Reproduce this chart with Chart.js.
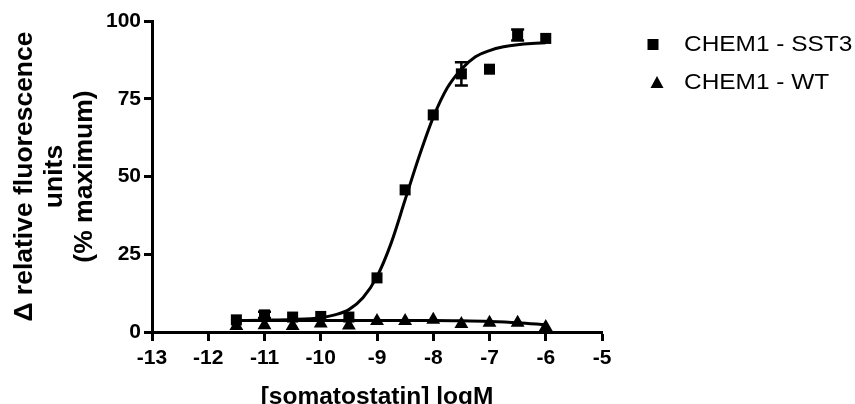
<!DOCTYPE html>
<html>
<head>
<meta charset="utf-8">
<script src="https://cdn.jsdelivr.net/npm/chart.js@4.4.1/dist/chart.umd.min.js"></script>
<style>
  html, body { margin: 0; padding: 0; background: #fff; }
</style>
</head>
<body>
<canvas id="myChart" width="855" height="404"></canvas>
<script>
// log dose of somatostatin
const doses = [-11.5, -11, -10.5, -10, -9.5, -9, -8.5, -8, -7.5, -7, -6.5, -6];
const sst3Values = [3.9, 5.5, 4.8, 5.0, 4.8, 17.4, 45.7, 69.8, 83.0, 84.5, 95.5, 94.4];
const sst3Errors = [0, 1.0, 0, 0, 0, 0, 0, 0, 3.7, 0, 1.8, 0];
const wtValues = [1.9, 2.2, 1.9, 2.7, 2.1, 3.5, 3.5, 3.9, 2.6, 3.0, 3.0, 1.6];

// fitted curves
const sst3FitX = [-11.5, -11, -10.5, -10, -9.75, -9.5, -9.25, -9, -8.75, -8.5, -8.25, -8, -7.75, -7.5, -7.25, -7, -6.75, -6.5, -6.25, -6];
const sst3FitY = [3.7, 3.8, 4.0, 4.6, 5.5, 7.2, 11.0, 17.8, 28.5, 42.5, 56.5, 69.0, 78.5, 84.5, 88.5, 90.5, 91.7, 92.4, 92.8, 93.0];
const wtFitX = [-11.5, -10, -9, -8, -7.5, -7, -6.5, -6];
const wtFitY = [3.7, 3.7, 3.7, 3.7, 3.6, 3.4, 3.0, 2.3];

const seriesLabels = ["CHEM1 - SST3", "CHEM1 - WT"];
const xTitle = "[somatostatin] logM";
const yTitle = ["\u0394 relative fluorescence", "units", "(% maximum)"];

const FONT = "'Liberation Sans', Arial, sans-serif";

const toPoints = (xs, ys) => xs.map((x, i) => ({ x: x, y: ys[i] }));

const errorBars = {
  id: "errorBars",
  afterDatasetsDraw(chart) {
    const ctx = chart.ctx;
    const xs = chart.scales.x;
    const ys = chart.scales.y;
    ctx.save();
    ctx.strokeStyle = "#000";
    ctx.lineWidth = 2.5;
    doses.forEach((d, i) => {
      const e = sst3Errors[i];
      if (!e) return;
      const px = xs.getPixelForValue(d);
      const top = ys.getPixelForValue(sst3Values[i] + e);
      const bot = ys.getPixelForValue(sst3Values[i] - e);
      ctx.beginPath();
      ctx.moveTo(px, top);
      ctx.lineTo(px, bot);
      ctx.moveTo(px - 6.5, top);
      ctx.lineTo(px + 6.5, top);
      ctx.moveTo(px - 6.5, bot);
      ctx.lineTo(px + 6.5, bot);
      ctx.stroke();
    });
    ctx.restore();
  },
};

// legend on the right, text a bit wide like the original
const sideLegend = {
  id: "sideLegend",
  afterDraw(chart) {
    const ctx = chart.ctx;
    ctx.save();
    ctx.fillStyle = "#000";
    // square marker
    ctx.fillRect(647.5, 39, 11, 11);
    // triangle marker
    ctx.beginPath();
    ctx.moveTo(657, 76);
    ctx.lineTo(663.5, 88);
    ctx.lineTo(650.5, 88);
    ctx.closePath();
    ctx.fill();
    ctx.font = "22px " + FONT;
    ctx.textBaseline = "middle";
    ctx.textAlign = "left";
    ctx.translate(684, 0);
    ctx.scale(1.11, 1);
    ctx.fillText(seriesLabels[0], 0, 45);
    ctx.fillText(seriesLabels[1], 0, 82.5);
    ctx.restore();
  },
};

const ctx = document.getElementById("myChart").getContext("2d");
const myChart = new Chart(ctx, {
  type: "scatter",
  data: {
    datasets: [
      {
        label: seriesLabels[0],
        data: toPoints(doses, sst3Values),
        pointStyle: "rect",
        pointRadius: 7.8,
        backgroundColor: "#000",
        borderWidth: 0,
        order: 0,
        clip: false,
      },
      {
        label: seriesLabels[1],
        data: toPoints(doses, wtValues),
        pointStyle: "triangle",
        pointRadius: 8,
        backgroundColor: "#000",
        borderWidth: 0,
        order: 1,
        clip: false,
      },
      {
        label: "SST3 fit",
        data: toPoints(sst3FitX, sst3FitY),
        showLine: true,
        pointRadius: 0,
        borderColor: "#000",
        borderWidth: 3,
        cubicInterpolationMode: "monotone",
        order: 2,
      },
      {
        label: "WT fit",
        data: toPoints(wtFitX, wtFitY),
        showLine: true,
        pointRadius: 0,
        borderColor: "#000",
        borderWidth: 3,
        cubicInterpolationMode: "monotone",
        order: 3,
      },
    ],
  },
  options: {
    responsive: false,
    animation: false,
    devicePixelRatio: 1,
    layout: { padding: { top: 21, right: 253, left: 0, bottom: 0 } },
    plugins: {
      legend: { display: false },
      tooltip: { enabled: false },
    },
    scales: {
      x: {
        type: "linear",
        min: -13,
        max: -5,
        ticks: {
          stepSize: 1,
          color: "#000",
          padding: 5,
          font: { family: FONT, size: 21, weight: "bold" },
        },
        grid: {
          drawOnChartArea: false,
          tickLength: 9,
          tickWidth: 3,
          tickColor: "#000",
        },
        border: { color: "#000", width: 3 },
        title: {
          display: true,
          text: xTitle,
          color: "#000",
          font: { family: FONT, size: 24.5, weight: "bold" },
          padding: { top: 0, bottom: -8 },
        },
        afterFit: (scale) => {
          scale.height = 72;
        },
      },
      y: {
        min: 0,
        max: 100,
        ticks: {
          stepSize: 25,
          color: "#000",
          padding: 3,
          font: { family: FONT, size: 21, weight: "bold" },
        },
        grid: {
          drawOnChartArea: false,
          tickLength: 8,
          tickWidth: 3,
          tickColor: "#000",
        },
        border: { color: "#000", width: 3 },
        title: {
          display: true,
          text: yTitle,
          color: "#000",
          font: { family: FONT, size: 26.5, weight: "bold", lineHeight: 1.12 },
          padding: { top: 10, bottom: 0 },
        },
        afterFit: (scale) => {
          scale.width = 152;
        },
      },
    },
  },
  plugins: [errorBars, sideLegend],
});
</script>
</body>
</html>
